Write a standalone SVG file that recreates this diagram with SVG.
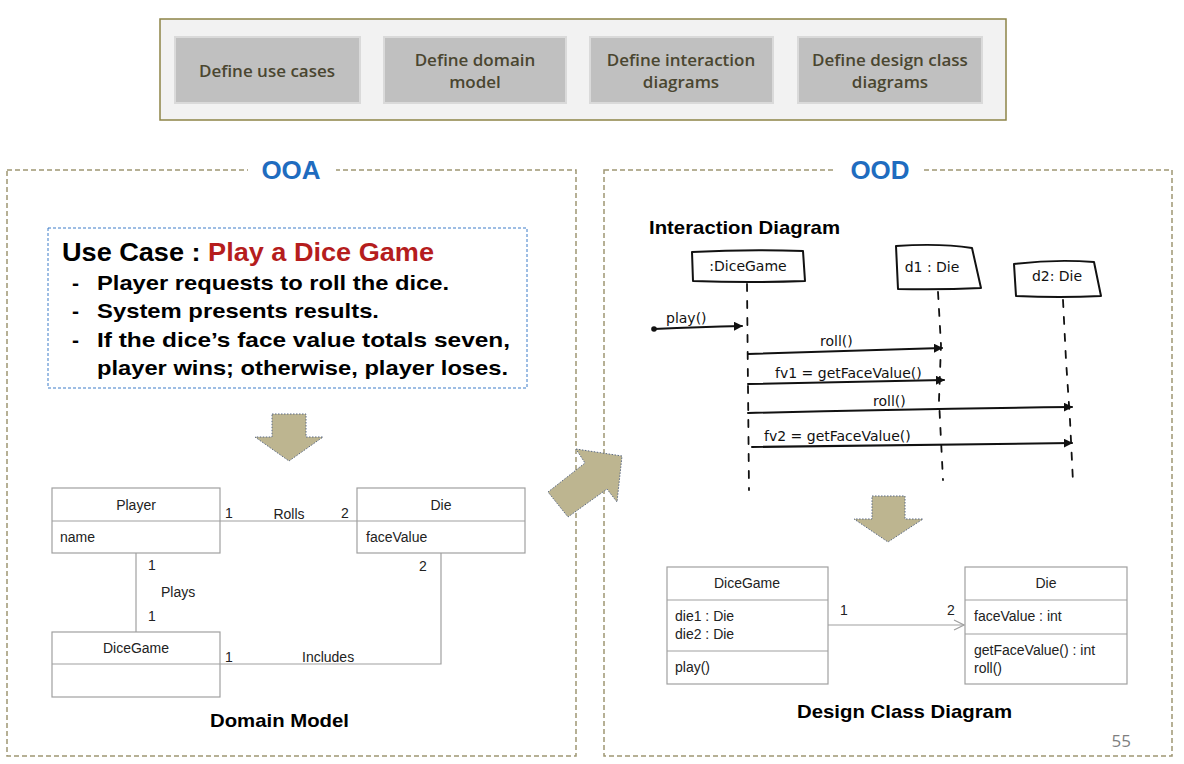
<svg xmlns="http://www.w3.org/2000/svg" width="1184" height="764" viewBox="0 0 1184 764">
<style>
.step{fill:#c0c0c0;stroke:#dadada;stroke-width:2}
.steptxt{font-family:"Open Sans","Liberation Sans",sans-serif;font-size:17px;font-weight:600;fill:#4a4630;text-anchor:middle}
.panel{fill:none;stroke:#9e9673;stroke-width:1.5;stroke-dasharray:5 3}
.ttl{font-family:"Liberation Sans",Arial,sans-serif;font-size:26px;font-weight:bold;fill:#1f6cbf;text-anchor:middle}
.uc{font-family:"Liberation Sans",Arial,sans-serif;font-weight:bold;fill:#000}
.cls{fill:#fff;stroke:#a0a0a0;stroke-width:1.2}
.ln{fill:none;stroke:#a0a0a0;stroke-width:1.2}
.t{font-family:"Liberation Sans",Arial,sans-serif;font-size:14px;fill:#222}
.tc{font-family:"Liberation Sans",Arial,sans-serif;font-size:14px;fill:#222;text-anchor:middle}
.cap{font-family:"Liberation Sans",Arial,sans-serif;font-size:19px;font-weight:bold;fill:#000}
.blk{fill:#bdb590;stroke:#5b6a85;stroke-width:1;stroke-dasharray:1.5 1.5}
.hand{fill:none;stroke:#111;stroke-width:2;stroke-linecap:round;stroke-linejoin:round}
.life{fill:none;stroke:#111;stroke-width:1.8;stroke-dasharray:7 10;stroke-linecap:round}
.ht{font-family:"DejaVu Sans","Liberation Sans",sans-serif;font-size:14px;fill:#111}
</style>
<defs>
<marker id="ah" viewBox="0 0 10 10" refX="9" refY="5" markerWidth="9" markerHeight="9" orient="auto" markerUnits="userSpaceOnUse"><path d="M0,0 L10,5 L0,10 Z" fill="#111"/></marker>
<marker id="open" viewBox="0 0 12 12" refX="11" refY="6" markerWidth="12" markerHeight="12" orient="auto" markerUnits="userSpaceOnUse"><path d="M1,1 L11,6 L1,11" fill="none" stroke="#a0a0a0" stroke-width="1.2"/></marker>
</defs>
<rect width="1184" height="764" fill="#fff"/>

<!-- Top banner -->
<g id="banner">
<rect x="160" y="19" width="846" height="101" fill="#f2f2f2" stroke="#8d8447" stroke-width="1.5"/>
<g id="step1"><rect class="step" x="175" y="37" width="185" height="66"/><text class="steptxt" x="267" y="77">Define use cases</text></g>
<g id="step2"><rect class="step" x="384" y="37" width="182" height="66"/><text class="steptxt" x="475" y="66">Define domain</text><text class="steptxt" x="475" y="88">model</text></g>
<g id="step3"><rect class="step" x="590" y="37" width="183" height="66"/><text class="steptxt" x="681" y="66">Define interaction</text><text class="steptxt" x="681" y="88">diagrams</text></g>
<g id="step4"><rect class="step" x="798" y="37" width="184" height="66"/><text class="steptxt" x="890" y="66">Define design class</text><text class="steptxt" x="890" y="88">diagrams</text></g>
</g>

<!-- Panels -->
<g id="ooa-panel">
<rect class="panel" x="7" y="170" width="569" height="586"/>
<rect x="248" y="160" width="88" height="20" fill="#fff"/>
<text class="ttl" x="291" y="179">OOA</text>
</g>
<g id="ood-panel">
<rect class="panel" x="604" y="170" width="568" height="586"/>
<rect x="836" y="160" width="88" height="20" fill="#fff"/>
<text class="ttl" x="880" y="179">OOD</text>
</g>

<!-- Use case -->
<g id="usecase">
<rect x="48" y="228" width="479" height="160" fill="#fff" stroke="#3d7cc9" stroke-width="1" stroke-dasharray="3 2"/>
<text class="uc" x="62" y="261" font-size="25" textLength="372" lengthAdjust="spacingAndGlyphs">Use Case : <tspan fill="#b51d1d">Play a Dice Game</tspan></text>
<g class="uc" font-size="21">
<text x="72" y="290">-</text><text x="97" y="290" textLength="352" lengthAdjust="spacingAndGlyphs">Player requests to roll the dice.</text>
<text x="72" y="318">-</text><text x="97" y="318" textLength="282" lengthAdjust="spacingAndGlyphs">System presents results.</text>
<text x="72" y="347">-</text><text x="97" y="347" textLength="413" lengthAdjust="spacingAndGlyphs">If the dice’s face value totals seven,</text>
<text x="97" y="375" textLength="411" lengthAdjust="spacingAndGlyphs">player wins; otherwise, player loses.</text>
</g>
</g>

<!-- Block arrows -->
<g id="arrow-ooa"><polygon class="blk" points="272,414 306,414 306,437 323,437 289,461 255,437 272,437"/></g>
<g id="arrow-mid"><polygon class="blk" points="576,449 622,456 617,502 607,489 568,517 548,492 585,463"/></g>
<g id="arrow-ood"><polygon class="blk" points="872,496 905,496 905,519 923,519 888,542 854,519 872,519"/></g>

<!-- Domain model connectors -->
<g id="domain-connectors">
<line class="ln" x1="220" y1="521" x2="357" y2="521"/>
<line class="ln" x1="136" y1="553" x2="136" y2="632"/>
<polyline class="ln" points="441,553 441,664 220,664"/>
<text class="t" x="225" y="518">1</text><text class="tc" x="289" y="519">Rolls</text><text class="t" x="341" y="518">2</text>
<text class="t" x="148" y="570">1</text><text class="t" x="161" y="597">Plays</text><text class="t" x="148" y="621">1</text>
<text class="t" x="419" y="571">2</text>
<text class="t" x="225" y="662">1</text><text class="t" x="302" y="662">Includes</text>
</g>
<g id="dm-player"><rect class="cls" x="52" y="488" width="168" height="65"/><line class="ln" x1="52" y1="521" x2="220" y2="521"/><text class="tc" x="136" y="510">Player</text><text class="t" x="60" y="542">name</text></g>
<g id="dm-die"><rect class="cls" x="357" y="488" width="168" height="65"/><line class="ln" x1="357" y1="521" x2="525" y2="521"/><text class="tc" x="441" y="510">Die</text><text class="t" x="366" y="542">faceValue</text></g>
<g id="dm-dicegame"><rect class="cls" x="52" y="632" width="168" height="65"/><line class="ln" x1="52" y1="664" x2="220" y2="664"/><text class="tc" x="136" y="653">DiceGame</text></g>
<text class="cap" x="210" y="727" textLength="139" lengthAdjust="spacingAndGlyphs">Domain Model</text>

<!-- Interaction diagram -->
<text class="cap" x="649" y="234" textLength="191" lengthAdjust="spacingAndGlyphs">Interaction Diagram</text>
<g id="seq-connectors">
<path class="life" d="M747,284 L749,490"/>
<path class="life" d="M938,292 L941,345 L939,400 L943,480"/>
<path class="life" d="M1063,300 L1066,360 L1070,420 L1073,482"/>
<circle cx="654" cy="329" r="2.8" fill="#111"/>
<path class="hand" d="M654,329 Q700,327 742,326" marker-end="url(#ah)"/>
<path class="hand" d="M748,354 Q840,351 942,348" marker-end="url(#ah)"/>
<path class="hand" d="M748,384 Q840,382 944,380" marker-end="url(#ah)"/>
<path class="hand" d="M748,413 Q900,409 1072,407" marker-end="url(#ah)"/>
<path class="hand" d="M752,447 Q900,445 1072,443" marker-end="url(#ah)"/>
<text class="ht" x="666" y="323" font-size="15">play()</text>
<text class="ht" x="820" y="346" font-size="15">roll()</text>
<text class="ht" x="775" y="378" font-size="13.5">fv1 = getFaceValue()</text>
<text class="ht" x="873" y="406" font-size="15">roll()</text>
<text class="ht" x="764" y="441" font-size="13.5">fv2 = getFaceValue()</text>
</g>
<g id="ll-dicegame"><path class="hand" d="M692,252 Q748,249 803,251 L805,281 Q750,283 693,281 Z" fill="#fff"/><text class="ht" x="748" y="271" text-anchor="middle" font-size="15">:DiceGame</text></g>
<g id="ll-d1"><path class="hand" d="M896,246 Q940,243 972,248 L981,288 Q940,290 898,289 Z" fill="#fff"/><text class="ht" x="932" y="272" text-anchor="middle" font-size="15">d1 : Die</text></g>
<g id="ll-d2"><path class="hand" d="M1014,264 Q1055,259 1094,262 L1101,296 Q1060,298 1016,296 Z" fill="#fff"/><text class="ht" x="1057" y="281" text-anchor="middle" font-size="15">d2: Die</text></g>

<!-- Design class diagram -->
<g id="dc-connectors">
<line class="ln" x1="828" y1="625" x2="964" y2="625" marker-end="url(#open)"/>
<text class="t" x="840" y="615">1</text><text class="t" x="947" y="615">2</text>
</g>
<g id="dc-dicegame"><rect class="cls" x="667" y="567" width="161" height="117"/><line class="ln" x1="667" y1="600" x2="828" y2="600"/><line class="ln" x1="667" y1="651" x2="828" y2="651"/>
<text class="tc" x="747" y="588">DiceGame</text><text class="t" x="675" y="621">die1 : Die</text><text class="t" x="675" y="639">die2 : Die</text><text class="t" x="675" y="672">play()</text></g>
<g id="dc-die"><rect class="cls" x="965" y="567" width="162" height="117"/><line class="ln" x1="965" y1="600" x2="1127" y2="600"/><line class="ln" x1="965" y1="634" x2="1127" y2="634"/>
<text class="tc" x="1046" y="588">Die</text><text class="t" x="974" y="621">faceValue : int</text><text class="t" x="974" y="655">getFaceValue() : int</text><text class="t" x="974" y="673">roll()</text></g>
<text class="cap" x="797" y="718" textLength="215" lengthAdjust="spacingAndGlyphs">Design Class Diagram</text>
<text x="1131" y="747" font-family="Open Sans,Liberation Sans,sans-serif" font-size="17" fill="#7f7f7f" text-anchor="end">55</text>
</svg>
